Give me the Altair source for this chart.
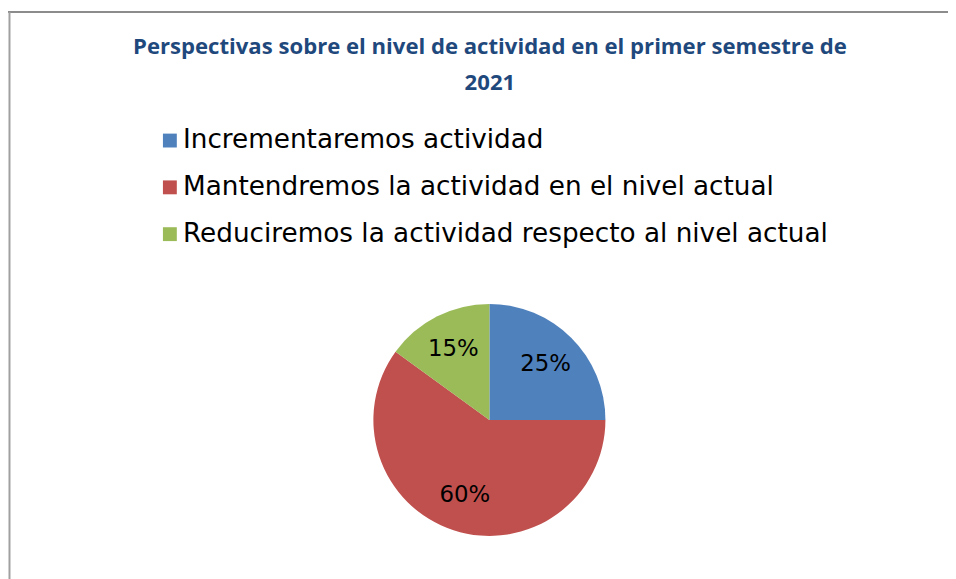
import altair as alt
import pandas as pd

categories = [
    "Incrementaremos actividad",
    "Mantendremos la actividad en el nivel actual",
    "Reduciremos la actividad respecto al nivel actual",
]
values = [25, 60, 15]
labels = ["25%", "60%", "15%"]
colors = ["#4F81BD", "#C0504D", "#9BBB59"]
title_lines = ["Perspectivas sobre el nivel de actividad en el primer semestre de", "2021"]

df = pd.DataFrame({"cat": categories, "value": values, "label": labels, "idx": list(range(len(categories)))})

PAD_TOP = 110
W, H = 948, 571 - PAD_TOP
CX, CY = 485.5, 413 - PAD_TOP

base = alt.Chart(df)

pie = base.mark_arc(outerRadius=117).encode(
    theta=alt.Theta("value:Q", stack=True),
    order=alt.Order("idx:Q"),
    color=alt.Color(
        "cat:N",
        scale=alt.Scale(domain=categories, range=colors),
        legend=alt.Legend(
            title=None,
            orient="none",
            legendX=150,
            legendY=8,
            symbolType="square",
            symbolSize=196,
            symbolStrokeWidth=0,
            symbolOpacity=1,
            labelFont="DejaVu Sans",
            labelFontSize=26.5,
            labelColor="#000000",
            labelLimit=2000,
            labelOffset=0,
            rowPadding=20.2,
            padding=0,
        ),
    ),
    x=alt.value(CX),
    y=alt.value(CY),
)

text = base.mark_text(radius=80, font="DejaVu Sans", fontSize=23, color="#000000").encode(
    theta=alt.Theta("value:Q", stack=True),
    order=alt.Order("idx:Q"),
    text="label:N",
    x=alt.value(CX),
    y=alt.value(CY),
)

border_data = alt.Data(values=[{"k": 1}])
top_rule = alt.Chart(border_data).mark_rule(color="#8C8C8C", strokeWidth=2).encode(
    x=alt.value(-5), x2=alt.value(970), y=alt.value(1.5 - PAD_TOP)
)
left_rule = alt.Chart(border_data).mark_rule(color="#A0A0A0", strokeWidth=2).encode(
    x=alt.value(1.5), y=alt.value(1.5 - PAD_TOP), y2=alt.value(H + 20)
)

chart = alt.layer(top_rule, left_rule, pie, text).properties(
    width=W,
    height=H,
    padding={"left": 0, "top": PAD_TOP, "right": 0, "bottom": 0},
    autosize=alt.AutoSizeParams(type="none"),
    title=alt.TitleParams(
        text=title_lines,
        anchor="middle",
        frame="group",
        font="Open Sans",
        fontSize=22.3,
        fontWeight="bold",
        color="#1F497D",
        lineHeight=36,
        offset=25,
        dx=12,
        dy=109,
    ),
).configure_view(stroke=None)

chart.save("out.html", embed_options={"renderer": "svg", "actions": False})
